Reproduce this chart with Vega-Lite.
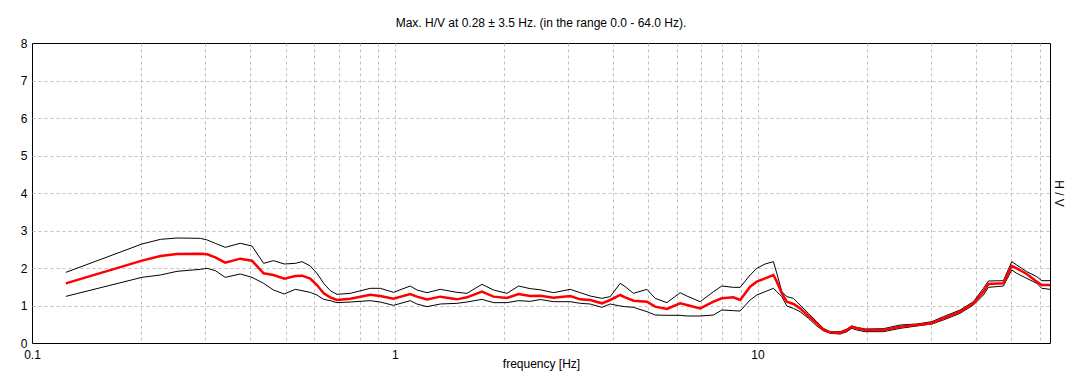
{
  "$schema": "https://vega.github.io/schema/vega-lite/v6.json",
  "width": 1018,
  "height": 300,
  "autosize": "none",
  "padding": {"left": 32, "top": 43, "right": 31, "bottom": 44},
  "background": "white",
  "title": {
    "text": "Max. H/V at 0.28 ± 3.5 Hz. (in the range 0.0 - 64.0 Hz).",
    "font": "Liberation Sans",
    "fontSize": 12,
    "fontWeight": "normal",
    "color": "black",
    "baseline": "alphabetic",
    "offset": 17,
    "dy": 19,
    "anchor": "middle",
    "frame": "group"
  },
  "config": {
    "view": {"stroke": "black", "strokeWidth": 1},
    "axis": {
      "labelFont": "Liberation Sans",
      "labelFontSize": 12,
      "labelColor": "black",
      "titleFont": "Liberation Sans",
      "titleFontSize": 12,
      "titleFontWeight": "normal",
      "titleColor": "black",
      "gridColor": "#c0c0c0",
      "gridDash": [3, 3],
      "gridWidth": 1,
      "ticks": false,
      "tickSize": 0,
      "domain": false,
      "labelFlush": false,
      "labelOverlap": false
    }
  },
  "data": {
    "values": [
      {"f": 0.124, "hi": 1.884, "hv": 1.591, "lo": 1.244},
      {"f": 0.201, "hi": 2.64, "hv": 2.196, "lo": 1.751},
      {"f": 0.226, "hi": 2.764, "hv": 2.32, "lo": 1.813},
      {"f": 0.251, "hi": 2.8, "hv": 2.373, "lo": 1.911},
      {"f": 0.291, "hi": 2.791, "hv": 2.382, "lo": 1.964},
      {"f": 0.304, "hi": 2.747, "hv": 2.364, "lo": 1.991},
      {"f": 0.32, "hi": 2.658, "hv": 2.284, "lo": 1.929},
      {"f": 0.341, "hi": 2.551, "hv": 2.142, "lo": 1.751},
      {"f": 0.375, "hi": 2.658, "hv": 2.249, "lo": 1.84},
      {"f": 0.404, "hi": 2.587, "hv": 2.196, "lo": 1.751},
      {"f": 0.435, "hi": 2.124, "hv": 1.858, "lo": 1.591},
      {"f": 0.463, "hi": 2.196, "hv": 1.813, "lo": 1.413},
      {"f": 0.496, "hi": 2.107, "hv": 1.716, "lo": 1.307},
      {"f": 0.532, "hi": 2.124, "hv": 1.787, "lo": 1.431},
      {"f": 0.555, "hi": 2.169, "hv": 1.796, "lo": 1.396},
      {"f": 0.585, "hi": 2.053, "hv": 1.72, "lo": 1.35},
      {"f": 0.61, "hi": 1.858, "hv": 1.547, "lo": 1.28},
      {"f": 0.637, "hi": 1.591, "hv": 1.324, "lo": 1.164},
      {"f": 0.664, "hi": 1.396, "hv": 1.218, "lo": 1.129},
      {"f": 0.693, "hi": 1.298, "hv": 1.147, "lo": 1.076},
      {"f": 0.754, "hi": 1.324, "hv": 1.182, "lo": 1.093},
      {"f": 0.856, "hi": 1.458, "hv": 1.289, "lo": 1.129},
      {"f": 0.912, "hi": 1.458, "hv": 1.253, "lo": 1.093},
      {"f": 0.992, "hi": 1.351, "hv": 1.182, "lo": 1.004},
      {"f": 1.103, "hi": 1.52, "hv": 1.307, "lo": 1.129},
      {"f": 1.151, "hi": 1.413, "hv": 1.236, "lo": 1.04},
      {"f": 1.227, "hi": 1.342, "hv": 1.164, "lo": 0.969},
      {"f": 1.335, "hi": 1.431, "hv": 1.236, "lo": 1.04},
      {"f": 1.484, "hi": 1.351, "hv": 1.164, "lo": 1.058},
      {"f": 1.581, "hi": 1.324, "hv": 1.218, "lo": 1.093},
      {"f": 1.739, "hi": 1.564, "hv": 1.369, "lo": 1.164},
      {"f": 1.872, "hi": 1.413, "hv": 1.236, "lo": 1.076},
      {"f": 2.038, "hi": 1.324, "hv": 1.2, "lo": 1.076},
      {"f": 2.194, "hi": 1.52, "hv": 1.307, "lo": 1.129},
      {"f": 2.362, "hi": 1.449, "hv": 1.253, "lo": 1.111},
      {"f": 2.518, "hi": 1.42, "hv": 1.26, "lo": 1.16},
      {"f": 2.739, "hi": 1.342, "hv": 1.209, "lo": 1.102},
      {"f": 3.045, "hi": 1.431, "hv": 1.253, "lo": 1.102},
      {"f": 3.245, "hi": 1.342, "hv": 1.164, "lo": 1.058},
      {"f": 3.457, "hi": 1.253, "hv": 1.147, "lo": 1.04},
      {"f": 3.724, "hi": 1.191, "hv": 1.058, "lo": 0.951},
      {"f": 3.925, "hi": 1.236, "hv": 1.147, "lo": 1.04},
      {"f": 4.182, "hi": 1.591, "hv": 1.28, "lo": 0.987},
      {"f": 4.317, "hi": 1.502, "hv": 1.218, "lo": 0.969},
      {"f": 4.55, "hi": 1.324, "hv": 1.129, "lo": 0.951},
      {"f": 4.955, "hi": 1.431, "hv": 1.102, "lo": 0.836},
      {"f": 5.222, "hi": 1.191, "hv": 0.969, "lo": 0.747},
      {"f": 5.625, "hi": 1.076, "hv": 0.907, "lo": 0.738},
      {"f": 6.119, "hi": 1.342, "hv": 1.058, "lo": 0.738},
      {"f": 6.386, "hi": 1.253, "hv": 1.013, "lo": 0.72},
      {"f": 6.947, "hi": 1.102, "hv": 0.924, "lo": 0.72},
      {"f": 7.56, "hi": 1.369, "hv": 1.102, "lo": 0.747},
      {"f": 7.974, "hi": 1.52, "hv": 1.191, "lo": 0.88},
      {"f": 8.582, "hi": 1.484, "hv": 1.218, "lo": 0.862},
      {"f": 8.955, "hi": 1.484, "hv": 1.147, "lo": 0.853},
      {"f": 9.541, "hi": 1.813, "hv": 1.502, "lo": 1.147},
      {"f": 9.956, "hi": 1.991, "hv": 1.636, "lo": 1.28},
      {"f": 10.49, "hi": 2.107, "hv": 1.724, "lo": 1.369},
      {"f": 11.06, "hi": 2.169, "hv": 1.813, "lo": 1.458},
      {"f": 11.3, "hi": 1.858, "hv": 1.636, "lo": 1.369},
      {"f": 11.67, "hi": 1.369, "hv": 1.324, "lo": 1.236},
      {"f": 12.04, "hi": 1.236, "hv": 1.102, "lo": 0.987},
      {"f": 12.56, "hi": 1.191, "hv": 1.04, "lo": 0.924},
      {"f": 13.1, "hi": 1.013, "hv": 0.924, "lo": 0.836},
      {"f": 13.81, "hi": 0.791, "hv": 0.72, "lo": 0.658},
      {"f": 14.57, "hi": 0.569, "hv": 0.524, "lo": 0.453},
      {"f": 15.19, "hi": 0.391, "hv": 0.347, "lo": 0.329},
      {"f": 15.86, "hi": 0.302, "hv": 0.284, "lo": 0.258},
      {"f": 16.89, "hi": 0.3, "hv": 0.27, "lo": 0.24},
      {"f": 17.62, "hi": 0.37, "hv": 0.345, "lo": 0.3},
      {"f": 18.19, "hi": 0.453, "hv": 0.436, "lo": 0.391},
      {"f": 18.78, "hi": 0.418, "hv": 0.391, "lo": 0.347},
      {"f": 19.79, "hi": 0.373, "hv": 0.347, "lo": 0.302},
      {"f": 22.23, "hi": 0.382, "hv": 0.347, "lo": 0.302},
      {"f": 24.72, "hi": 0.48, "hv": 0.436, "lo": 0.391},
      {"f": 27.48, "hi": 0.507, "hv": 0.48, "lo": 0.453},
      {"f": 30.22, "hi": 0.569, "hv": 0.524, "lo": 0.507},
      {"f": 32.53, "hi": 0.702, "hv": 0.658, "lo": 0.613},
      {"f": 36.17, "hi": 0.88, "hv": 0.836, "lo": 0.791},
      {"f": 39.36, "hi": 1.102, "hv": 1.058, "lo": 1.013},
      {"f": 41.94, "hi": 1.458, "hv": 1.369, "lo": 1.28},
      {"f": 43.29, "hi": 1.653, "hv": 1.573, "lo": 1.484},
      {"f": 47.61, "hi": 1.662, "hv": 1.591, "lo": 1.52},
      {"f": 50.2, "hi": 2.169, "hv": 2.053, "lo": 1.947},
      {"f": 51.82, "hi": 2.08, "hv": 1.991, "lo": 1.858},
      {"f": 55.23, "hi": 1.902, "hv": 1.84, "lo": 1.724},
      {"f": 58.85, "hi": 1.769, "hv": 1.636, "lo": 1.591},
      {"f": 60.74, "hi": 1.662, "hv": 1.547, "lo": 1.458},
      {"f": 64.0, "hi": 1.662, "hv": 1.547, "lo": 1.431}
    ]
  },
  "encoding": {
    "x": {
      "field": "f",
      "type": "quantitative",
      "scale": {"type": "log", "domain": [0.1, 64], "nice": false},
      "axis": {
        "title": "frequency [Hz]",
        "values": [0.1, 0.2, 0.3, 0.4, 0.5, 0.6, 0.7, 0.8, 0.9, 1, 2, 3, 4, 5, 6, 7, 8, 9, 10, 20, 30, 40, 50, 60],
        "format": "~g",
        "labelExpr": "(datum.value == 0.1 || datum.value == 1 || datum.value == 10) ? datum.label : ''",
        "labelPadding": 6,
        "labelOverlap": false,
        "titleBaseline": "alphabetic",
        "titleY": 24,
        "gridOpacity": {"condition": {"test": "datum.value <= 0.1", "value": 0}, "value": 1}
      }
    }
  },
  "layer": [
    {
      "mark": {"type": "line", "color": "black", "strokeWidth": 1},
      "encoding": {
        "y": {
          "field": "hi",
          "type": "quantitative",
          "scale": {"domain": [0, 8], "nice": false},
          "axis": {
            "title": "H / V",
            "values": [0, 1, 2, 3, 4, 5, 6, 7, 8],
            "labelOverlap": false,
            "labelPadding": 5,
            "titleAngle": 90,
            "titleX": 1022,
            "titleY": 150,
            "titleAlign": "center",
            "titleBaseline": "alphabetic",
            "gridOpacity": {"condition": {"test": "datum.value == 0 || datum.value == 8", "value": 0}, "value": 1}
          }
        }
      }
    },
    {
      "mark": {"type": "line", "color": "black", "strokeWidth": 1},
      "encoding": {
        "y": {
          "field": "lo",
          "type": "quantitative",
          "scale": {"domain": [0, 8], "nice": false},
          "axis": {
            "title": "H / V",
            "values": [0, 1, 2, 3, 4, 5, 6, 7, 8],
            "labelOverlap": false,
            "labelPadding": 5,
            "titleAngle": 90,
            "titleX": 1022,
            "titleY": 150,
            "titleAlign": "center",
            "titleBaseline": "alphabetic",
            "gridOpacity": {"condition": {"test": "datum.value == 0 || datum.value == 8", "value": 0}, "value": 1}
          }
        }
      }
    },
    {
      "mark": {"type": "line", "color": "#ff0000", "strokeWidth": 2.5},
      "encoding": {
        "y": {
          "field": "hv",
          "type": "quantitative",
          "scale": {"domain": [0, 8], "nice": false},
          "axis": {
            "title": "H / V",
            "values": [0, 1, 2, 3, 4, 5, 6, 7, 8],
            "labelOverlap": false,
            "labelPadding": 5,
            "titleAngle": 90,
            "titleX": 1022,
            "titleY": 150,
            "titleAlign": "center",
            "titleBaseline": "alphabetic",
            "gridOpacity": {"condition": {"test": "datum.value == 0 || datum.value == 8", "value": 0}, "value": 1}
          }
        }
      }
    }
  ]
}
